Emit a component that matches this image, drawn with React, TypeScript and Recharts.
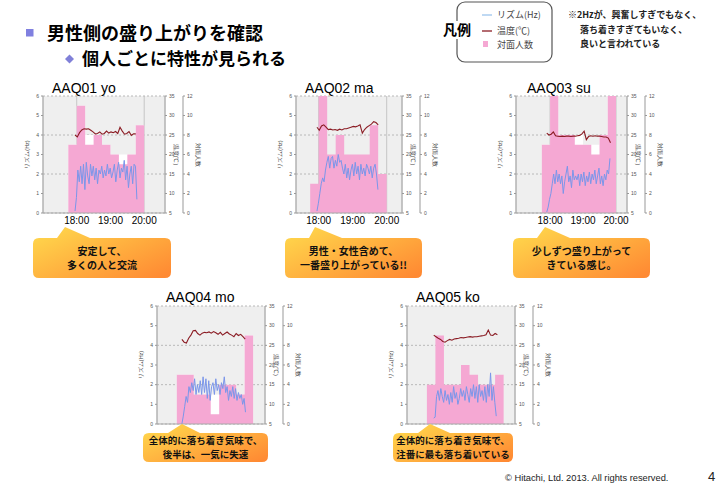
import React from "react";
import { ComposedChart, Line, Area, XAxis, YAxis, CartesianGrid } from "recharts";

// x values are minutes relative to 18:00
const hourTicks = [0, 60, 120];
const hourLabels = ["18:00", "19:00", "20:00"];
const rhythmTicks = [0, 1, 2, 3, 4, 5, 6];
const tempTicks = [5, 10, 15, 20, 25, 30, 35];
const personTicks = [0, 2, 4, 6, 8, 10, 12];
// 15 min bins for 対面人数 (17:45 .. 19:45), last entry closes the final bin at 20:00
const binStarts = [-15, 0, 15, 30, 45, 60, 75, 90, 105, 120];

const RHYTHM_STEP = 2.5;
const TEMP_STEP = 4;

// AAQ01 yo
const yoPersons = [7, 11, 7, 8, 7, 6, 5, 6, 9];
const yoGapTop = [7, 11, 8, 8, 7, 6, 6, 6, 9];
const yoRhythm = [0.1, 0.8, 2.2, 1.6, 2.4, 1.5, 2.5, 1.2, 2.6, 1.9, 1.5, 2.5, 1.9, 2.4, 1.7, 2.3, 1.5, 2.2, 2.0, 2.4, 1.8, 2.2, 1.9, 2.5, 2.0, 2.3, 1.8, 2.1, 2.5, 1.6, 2.2, 2.6, 1.8, 2.3, 2.1, 2.7, 1.7, 2.4, 1.3, 2.0, 2.4, 1.5, 2.5, 2.4, 0.7];
const yoTemp = [25.0, 24.5, 25.6, 26.3, 26.6, 26.5, 26.6, 26.2, 25.8, 25.3, 25.4, 25.8, 25.2, 25.4, 26.0, 25.5, 25.8, 25.6, 25.9, 25.4, 27.0, 26.0, 25.2, 25.4, 25.9, 24.9, 25.3, 25.3];

// AAQ02 ma
const maPersons = [3, 12, 6, 8, 6, 6, 6, 9, 4];
const maRhythm = [0.1, 0.5, 1.0, 1.5, 1.8, 1.6, 2.2, 2.6, 2.9, 2.3, 2.8, 2.9, 2.3, 2.7, 2.4, 3.0, 2.6, 2.7, 2.3, 2.0, 2.5, 1.8, 2.3, 1.7, 2.2, 2.5, 1.9, 2.6, 2.0, 2.4, 1.7, 2.5, 2.0, 2.3, 1.9, 2.5, 2.3, 2.0, 2.4, 1.8, 2.3, 2.5, 2.0, 1.2];
const maTemp = [27.0, 26.2, 27.3, 27.6, 27.0, 26.4, 26.5, 26.3, 26.4, 26.2, 26.5, 26.3, 26.6, 26.6, 26.8, 27.0, 27.2, 27.1, 27.3, 27.6, 25.5, 26.4, 27.0, 27.4, 27.8, 28.4, 28.2, 27.6];

// AAQ03 su
const suPersons = [7, 12, 8, 8, 7, 7, 6, 8, 12];
const suGapTop = [7, 12, 8, 8, 8, 7, 7, 8, 12];
const suRhythm = [0.05, 0.3, 0.7, 1.0, 1.5, 2.0, 1.5, 2.2, 1.6, 2.0, 1.5, 1.9, 1.0, 1.6, 2.0, 2.4, 1.6, 1.9, 1.3, 2.2, 1.7, 1.9, 1.7, 2.0, 1.4, 2.0, 1.6, 2.1, 1.4, 1.9, 1.6, 2.1, 1.5, 2.0, 1.7, 2.2, 1.5, 1.9, 2.3, 1.5, 1.9, 1.4, 2.0, 1.7, 2.2, 2.0, 2.8];
const suTemp = [25.5, 25.0, 25.2, 25.8, 24.8, 24.7, 24.6, 24.7, 24.6, 24.7, 24.7, 24.6, 24.7, 24.7, 24.8, 24.9, 25.3, 26.0, 23.8, 24.6, 24.8, 24.7, 24.8, 24.7, 24.7, 24.6, 24.5, 24.5, 24.2, 23.0];

// AAQ04 mo
const moPersons = [5, 5, 3, 3, 1, 4, 4, 3, 9];
const moGapTop = [5, 5, 3, 3, 3, 4, 4, 3, 9];
const moRhythm = [0.0, 0.4, 0.9, 1.4, 1.1, 1.9, 1.6, 2.1, 1.7, 2.3, 1.5, 2.0, 1.6, 2.2, 1.5, 2.4, 1.6, 2.3, 1.3, 2.2, 1.2, 1.9, 2.1, 1.5, 2.3, 1.7, 2.0, 1.5, 2.1, 1.8, 2.4, 1.6, 1.9, 1.2, 1.7, 1.4, 1.9, 1.3, 1.8, 1.2, 1.6, 1.3, 1.5, 1.0, 1.3, 0.6];
const moTemp = [26.5, 25.8, 25.6, 26.8, 27.6, 28.7, 28.8, 28.0, 27.6, 28.1, 28.3, 28.2, 28.4, 28.1, 28.5, 28.2, 27.8, 28.3, 27.6, 28.0, 28.4, 27.9, 27.6, 27.2, 28.0, 27.5, 27.8, 27.2, 26.6];

// AAQ05 ko
const koPersons = [4, 9, 4, 4, 6, 5, 4, 4, 5];
const koRhythm = [0.3, 0.35, 1.4, 1.7, 1.2, 1.8, 1.4, 1.1, 1.7, 1.2, 1.5, 1.0, 1.6, 1.1, 1.9, 1.3, 1.6, 1.0, 1.3, 1.8, 1.4, 1.7, 1.2, 1.9, 1.5, 1.1, 1.8, 1.4, 2.0, 1.3, 1.9, 1.1, 2.0, 1.4, 1.7, 1.2, 1.9, 1.1, 2.0, 1.4, 2.6, 1.2, 1.9, 1.1, 0.4];
const koTemp = [27.6, 27.2, 26.8, 26.5, 26.0, 25.8, 26.2, 26.5, 26.3, 26.6, 26.7, 26.8, 27.0, 26.9, 27.0, 27.1, 27.2, 27.1, 27.2, 27.2, 27.3, 27.4, 27.5, 27.7, 28.9, 27.6, 27.5, 28.0, 27.7];

const PINK = "#f5a8d3";
const BLUE = "#7b96ea";
const RED = "#8b1c24";
const JP = "'Noto Sans CJK JP', 'Noto Sans', sans-serif";
const LAT = "'Liberation Sans', Arial, sans-serif";

function series(start: number, step: number, values: number[]) {
  return values.map((v, i) => ({ t: start + i * step, v }));
}

function steps(values: number[]) {
  return binStarts.map((t, i) => ({ t, v: values[Math.min(i, values.length - 1)] }));
}

type Cfg = {
  left: number;
  top: number;
  plotW: number;
  plotH: number;
  domain: [number, number];
  persons: number[];
  gapTop?: number[];
  rhythm: number[];
  temp: number[];
  start: number;
  showHours: boolean;
};

const charts: Cfg[] = [
  { left: 43, top: 96, plotW: 122, plotH: 117, domain: [-60, 157], persons: yoPersons, gapTop: yoGapTop, rhythm: yoRhythm, temp: yoTemp, start: -3, showHours: true },
  { left: 296, top: 96, plotW: 106, plotH: 117, domain: [-40, 147], persons: maPersons, rhythm: maRhythm, temp: maTemp, start: -3, showHours: true },
  { left: 516, top: 96, plotW: 111, plotH: 117, domain: [-62, 140], persons: suPersons, gapTop: suGapTop, rhythm: suRhythm, temp: suTemp, start: -6, showHours: true },
  { left: 157, top: 306, plotW: 108, plotH: 118, domain: [-50, 141], persons: moPersons, gapTop: moGapTop, rhythm: moRhythm, temp: moTemp, start: -6, showHours: false },
  { left: 407, top: 306, plotW: 108, plotH: 118, domain: [-50, 140], persons: koPersons, rhythm: koRhythm, temp: koTemp, start: -3, showHours: false },
];

const smallTick = { fontSize: 5, fill: "#555" };

function MiniChart({ cfg }: { cfg: Cfg }) {
  const LW = 23, TW = 18, PW = 21, MT = 4, XH = 16;
  const width = LW + cfg.plotW + TW + PW;
  const height = MT + cfg.plotH + XH;
  return (
    <div style={{ position: "absolute", left: cfg.left - LW, top: cfg.top - MT, fontFamily: LAT }}>
      <ComposedChart width={width} height={height} margin={{ top: MT, right: 0, bottom: 0, left: 0 }}>
        <CartesianGrid yAxisId="r" horizontal={false} stroke="#c6c6c6" fill="#efefef" />
        <CartesianGrid yAxisId="r" vertical={false} stroke="#b8b8b8" strokeDasharray="2 2" />
        <XAxis
          dataKey="t"
          type="number"
          domain={cfg.domain}
          ticks={hourTicks}
          allowDataOverflow
          height={XH}
          tickSize={2}
          tickLine={false}
          axisLine={{ stroke: "#a8a8a8" }}
          tickFormatter={(v: number) => hourLabels[hourTicks.indexOf(v)]}
          tick={cfg.showHours ? { fontSize: 10, fill: "#000" } : false}
        />
        <YAxis
          yAxisId="r"
          domain={[0, 6]}
          ticks={rhythmTicks}
          width={LW}
          tickSize={2}
          tick={smallTick}
          axisLine={{ stroke: "#a8a8a8" }}
          tickLine={{ stroke: "#999" }}
          label={{ value: "リズム(Hz)", angle: -90, position: "center", dx: -4, fontSize: 5.5, fill: "#444" }}
        />
        {/* temperature axis sits next to the plot, head-count axis outside it */}
        <YAxis
          yAxisId="t"
          orientation="right"
          domain={[5, 35]}
          ticks={tempTicks}
          width={TW}
          tickSize={2}
          tick={smallTick}
          axisLine={{ stroke: "#a8a8a8" }}
          tickLine={{ stroke: "#999" }}
          label={{ value: "温度(℃)", angle: 90, position: "center", dx: 2, fontSize: 5.5, fill: "#444" }}
        />
        <YAxis
          yAxisId="u"
          orientation="right"
          domain={[0, 12]}
          ticks={personTicks}
          width={PW}
          tickSize={2}
          tick={smallTick}
          axisLine={{ stroke: "#999" }}
          tickLine={{ stroke: "#999" }}
          label={{ value: "対面人数", angle: 90, position: "center", dx: 4, fontSize: 5.5, fill: "#444" }}
        />
        {cfg.gapTop && (
          <Area yAxisId="u" data={steps(cfg.gapTop)} dataKey="v" type="stepAfter" stroke="none" fill="#ffffff" fillOpacity={1} isAnimationActive={false} />
        )}
        <Area yAxisId="u" data={steps(cfg.persons)} dataKey="v" type="stepAfter" stroke="none" fill={PINK} fillOpacity={1} isAnimationActive={false} />
        <Line yAxisId="r" data={series(cfg.start, RHYTHM_STEP, cfg.rhythm)} dataKey="v" stroke={BLUE} strokeWidth={1} dot={false} isAnimationActive={false} />
        <Line yAxisId="t" data={series(cfg.start, TEMP_STEP, cfg.temp)} dataKey="v" stroke={RED} strokeWidth={1.1} dot={false} isAnimationActive={false} />
      </ComposedChart>
    </div>
  );
}

const titles = [
  { text: "AAQ01 yo", x: 52, y: 93 },
  { text: "AAQ02 ma", x: 305, y: 93 },
  { text: "AAQ03 su", x: 527, y: 93 },
  { text: "AAQ04 mo", x: 166, y: 302 },
  { text: "AAQ05 ko", x: 416, y: 302 },
];

const callouts = [
  { box: [33, 238, 171, 278], base: [57, 90], apex: [65, 227], lines: ["安定して、", "多くの人と交流"], size: 10 },
  { box: [285, 238, 422, 278], base: [309, 342], apex: [315, 227], lines: ["男性・女性含めて、", "一番盛り上がっている!!"], size: 10 },
  { box: [513, 238, 650, 278], base: [537, 570], apex: [545, 227], lines: ["少しずつ盛り上がって", "きている感じ。"], size: 10 },
  { box: [143, 433, 268, 462], base: [168, 200], apex: [182, 424], lines: ["全体的に落ち着き気味で、", "後半は、一気に失速"], size: 9.5 },
  { box: [393, 433, 513, 462], base: [418, 450], apex: [430, 424], lines: ["全体的に落ち着き気味で、", "注番に最も落ち着いている"], size: 9.5 },
];

const noteLines = ["※2Hzが、興奮しすぎでもなく、", "落ち着きすぎてもいなく、", "良いと言われている"];

function calloutPath(c: (typeof callouts)[number]) {
  const [x0, y0, x1, y1] = c.box;
  const r = 6;
  return `M${x0 + r},${y0} L${c.base[0]},${y0} L${c.apex[0]},${c.apex[1]} L${c.base[1]},${y0} L${x1 - r},${y0} Q${x1},${y0} ${x1},${y0 + r} L${x1},${y1 - r} Q${x1},${y1} ${x1 - r},${y1} L${x0 + r},${y1} Q${x0},${y1} ${x0},${y1 - r} L${x0},${y0 + r} Q${x0},${y0} ${x0 + r},${y0} Z`;
}

export default function App() {
  return (
    <div style={{ position: "absolute", left: 0, top: 0, width: 728, height: 485, background: "#fff", overflow: "hidden" }}>
      {charts.map((c, i) => (
        <MiniChart key={i} cfg={c} />
      ))}
      <svg width={728} height={485} style={{ position: "absolute", left: 0, top: 0, pointerEvents: "none" }}>
        <defs>
          <linearGradient id="calloutFill" x1="0" y1="0.1" x2="1" y2="0.9">
            <stop offset="0%" stopColor="#ffd84c" />
            <stop offset="100%" stopColor="#ff8a33" />
          </linearGradient>
        </defs>

        {/* header */}
        <rect x={26} y={29} width={7.5} height={7.5} fill="#8080e0" />
        <text x={47} y={40} fontSize={18} fontWeight="bold" fontFamily={JP} fill="#000">男性側の盛り上がりを確認</text>
        <polygon points="69.5,54.5 74,59 69.5,63.5 65,59" fill="#8080d8" />
        <text x={82} y={65} fontSize={17} fontWeight="bold" fontFamily={JP} fill="#000">個人ごとに特性が見られる</text>

        {/* legend */}
        <rect x={457} y={2} width={95} height={60} rx={8} fill="#fff" stroke="#555" strokeWidth={1.2} />
        <rect x={444} y={21} width={28} height={18} fill="#fff" />
        <text x={457} y={35} fontSize={14} fontWeight="bold" fontFamily={JP} textAnchor="middle" fill="#000">凡例</text>
        <line x1={482} y1={15} x2={492} y2={15} stroke="#9cc4ec" strokeWidth={1.3} />
        <text x={497} y={18} fontSize={9} fontFamily={JP} fill="#444">リズム(Hz)</text>
        <line x1={482} y1={31} x2={492} y2={31} stroke={RED} strokeWidth={1.3} />
        <text x={497} y={34} fontSize={9} fontFamily={JP} fill="#444">温度(℃)</text>
        <rect x={483} y={41} width={5} height={6} fill={PINK} />
        <text x={497} y={48} fontSize={9} fontFamily={JP} fill="#444">対面人数</text>

        {/* note */}
        {noteLines.map((l, i) => (
          <text key={i} x={i === 0 ? 568 : 580} y={18 + i * 14.5} fontSize={9} fontWeight="bold" fontFamily={JP} fill="#222">{l}</text>
        ))}

        {/* chart titles */}
        {titles.map((t, i) => (
          <text key={i} x={t.x} y={t.y} fontSize={14} fontFamily={LAT} fill="#000">{t.text}</text>
        ))}

        {/* callouts */}
        {callouts.map((c, i) => {
          const cx = (c.box[0] + c.box[2]) / 2;
          const cy = (c.box[1] + c.box[3]) / 2;
          const lh = c.size + 4;
          return (
            <g key={i}>
              <path d={calloutPath(c)} fill="url(#calloutFill)" />
              {c.lines.map((l, j) => (
                <text key={j} x={cx} y={cy + (j - 0.5) * lh + c.size * 0.38} fontSize={c.size} fontWeight="bold" fontFamily={JP} textAnchor="middle" fill="#111">{l}</text>
              ))}
            </g>
          );
        })}

        {/* footer */}
        <text x={505} y={481} fontSize={9.3} fontFamily={LAT} fill="#222">© Hitachi, Ltd. 2013. All rights reserved.</text>
        <text x={708} y={481} fontSize={13} fontFamily={LAT} fill="#222">4</text>
      </svg>
    </div>
  );
}
